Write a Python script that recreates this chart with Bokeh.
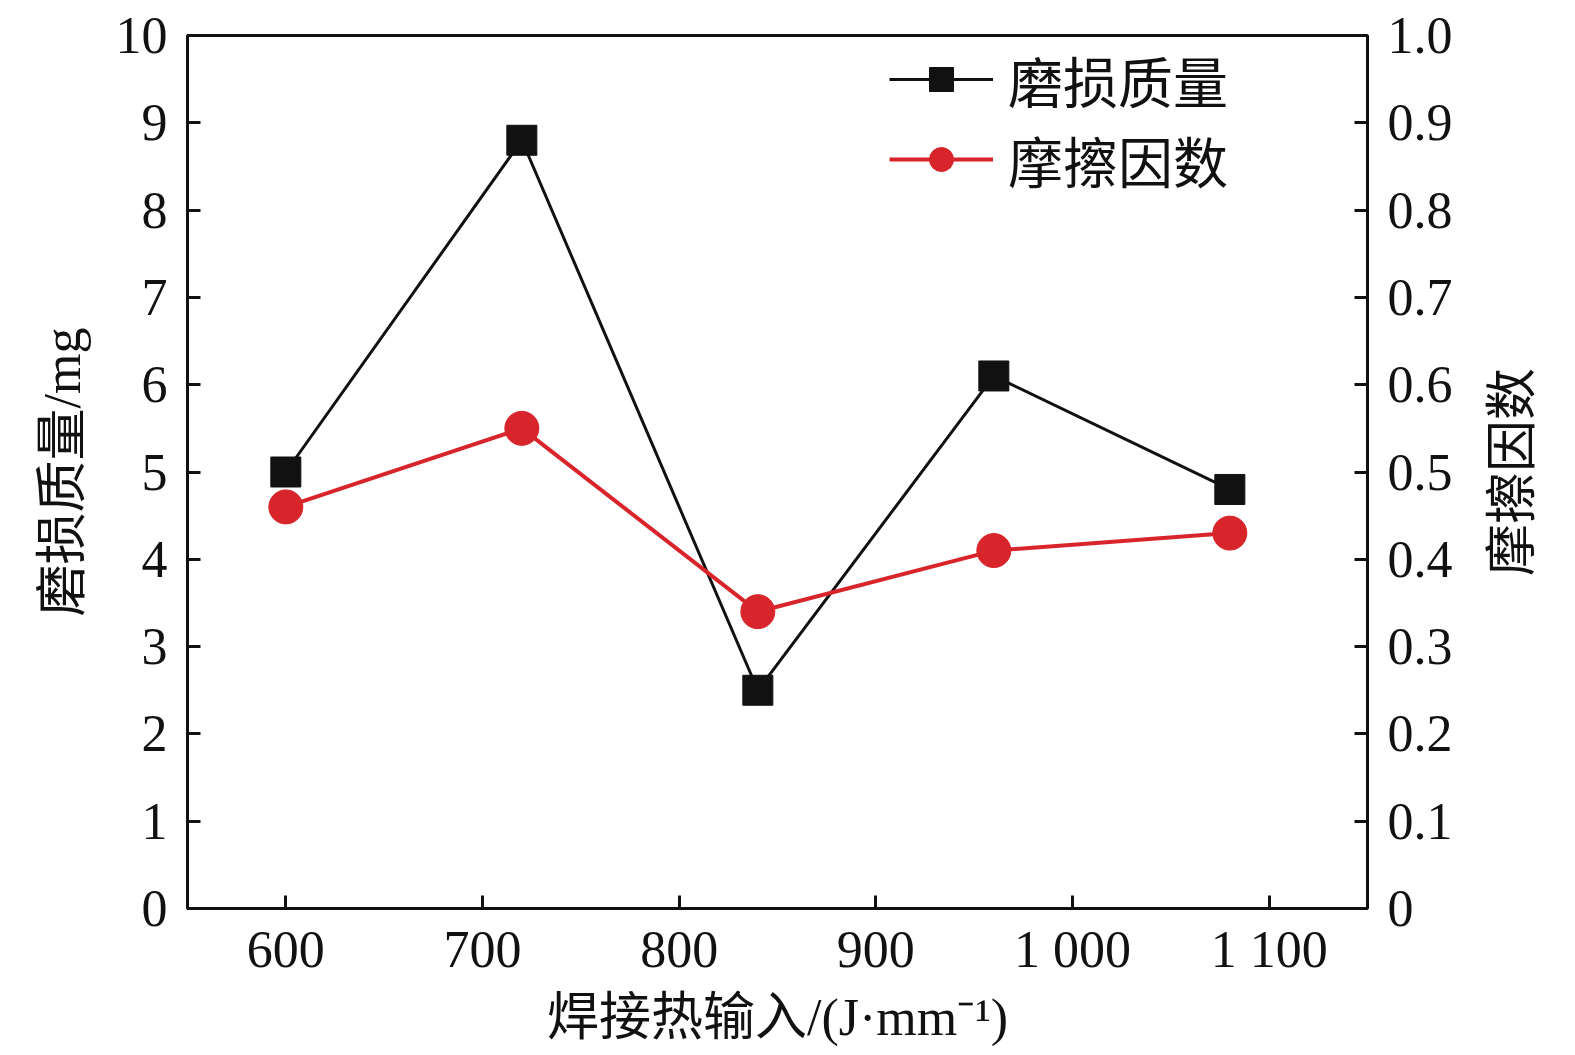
import math
from bokeh.plotting import figure
from bokeh.layouts import row
from bokeh.models import Range1d, LinearAxis, FixedTicker, Legend, LegendItem
from bokeh.core.properties import value
from bokeh.embed import file_html
from bokeh.resources import INLINE

heat_input = [600, 720, 840, 960, 1080]
wear_mass = [5.0, 8.8, 2.5, 6.1, 4.8]
friction = [0.46, 0.55, 0.34, 0.41, 0.43]

x_ticks = [600, 700, 800, 900, 1000, 1100]
x_tick_labels = ["600", "700", "800", "900", "1 000", "1 100"]
left_ticks = [0, 1, 2, 3, 4, 5, 6, 7, 8, 9, 10]
right_ticks = [0, 0.1, 0.2, 0.3, 0.4, 0.5, 0.6, 0.7, 0.8, 0.9, 1.0]
right_tick_labels = ["0", "0.1", "0.2", "0.3", "0.4", "0.5", "0.6", "0.7", "0.8", "0.9", "1.0"]
right_title = "摩擦因数"

FONT = "'Liberation Serif', 'Noto Sans CJK SC'"
BLACK = "#111111"
RED = "#d8252b"
FS = "52px"
H = 1052

p = figure(width=1470, height=H, output_backend="svg", toolbar_location=None,
           x_range=Range1d(550, 1150), y_range=Range1d(0, 10),
           min_border_left=187, min_border_right=103, min_border_top=35, min_border_bottom=144)
p.extra_y_ranges = {"right": Range1d(0, 1)}

p.xgrid.visible = False
p.ygrid.visible = False
p.outline_line_color = BLACK
p.outline_line_width = 3
p.outline_line_alpha = 1.0

def style_axis(ax):
    ax.axis_line_width = 3
    ax.axis_line_color = BLACK
    ax.major_tick_line_width = 3
    ax.major_tick_line_color = BLACK
    ax.major_tick_in = 13
    ax.major_tick_out = 0
    ax.minor_tick_in = 0
    ax.minor_tick_out = 0
    ax.major_label_text_font = FONT
    ax.major_label_text_font_size = FS
    ax.major_label_text_color = BLACK
    ax.axis_label_text_font = FONT
    ax.axis_label_text_font_size = FS
    ax.axis_label_text_font_style = "normal"
    ax.axis_label_text_color = BLACK
    ax.major_label_standoff = 20

xa = p.xaxis[0]
xa.ticker = FixedTicker(ticks=x_ticks)
xa.major_label_overrides = {t: l for t, l in zip(x_ticks, x_tick_labels)}
xa.axis_label = "焊接热输入/(J·mm⁻¹)"
style_axis(xa)
xa.major_label_standoff = 12
xa.axis_label_standoff = 8

ya = p.yaxis[0]
ya.ticker = FixedTicker(ticks=left_ticks)
ya.axis_label = "磨损质量/mg"
style_axis(ya)
ya.axis_label_standoff = 22

ra = LinearAxis(y_range_name="right", ticker=FixedTicker(ticks=right_ticks))
ra.major_label_overrides = {t: l for t, l in zip(right_ticks, right_tick_labels)}
style_axis(ra)
p.add_layout(ra, "right")

l1 = p.line(heat_input, wear_mass, line_color=BLACK, line_width=3)
s1 = p.scatter(heat_input, wear_mass, marker="square", size=30, fill_color=BLACK, line_color=BLACK)
l2 = p.line(heat_input, friction, line_color=RED, line_width=4, y_range_name="right")
s2 = p.scatter(heat_input, friction, marker="circle", size=34, fill_color=RED, line_color=RED, y_range_name="right")

legend = Legend(items=[LegendItem(label="磨损质量", renderers=[l1, s1]),
                       LegendItem(label="摩擦因数", renderers=[l2, s2])],
                location=(702, 709), orientation="vertical")
legend.background_fill_alpha = 0
legend.border_line_alpha = 0
legend.label_text_font = FONT
legend.label_text_font_size = "55px"
legend.label_text_color = BLACK
legend.glyph_width = 104
legend.glyph_height = 60
legend.label_height = 60
legend.spacing = 0
legend.padding = 0
legend.margin = 0
legend.label_standoff = 15
p.add_layout(legend)

# narrow companion panel carrying the right-axis title (reads bottom-to-top)
p2 = figure(width=80, height=H, output_backend="svg", toolbar_location=None,
            x_range=Range1d(0, 1), y_range=Range1d(0, 1),
            x_axis_location=None, y_axis_location=None,
            min_border_left=0, min_border_right=0, min_border_top=35, min_border_bottom=144)
p2.xgrid.visible = False
p2.ygrid.visible = False
p2.outline_line_color = None
p2.text(x=[0.53], y=[0.5], text=[right_title], angle=math.pi / 2,
        text_align="center", text_baseline="middle",
        text_font=value(FONT), text_font_size=FS, text_color=BLACK)

open("out.html", "w").write(file_html(row(p, p2), INLINE))
